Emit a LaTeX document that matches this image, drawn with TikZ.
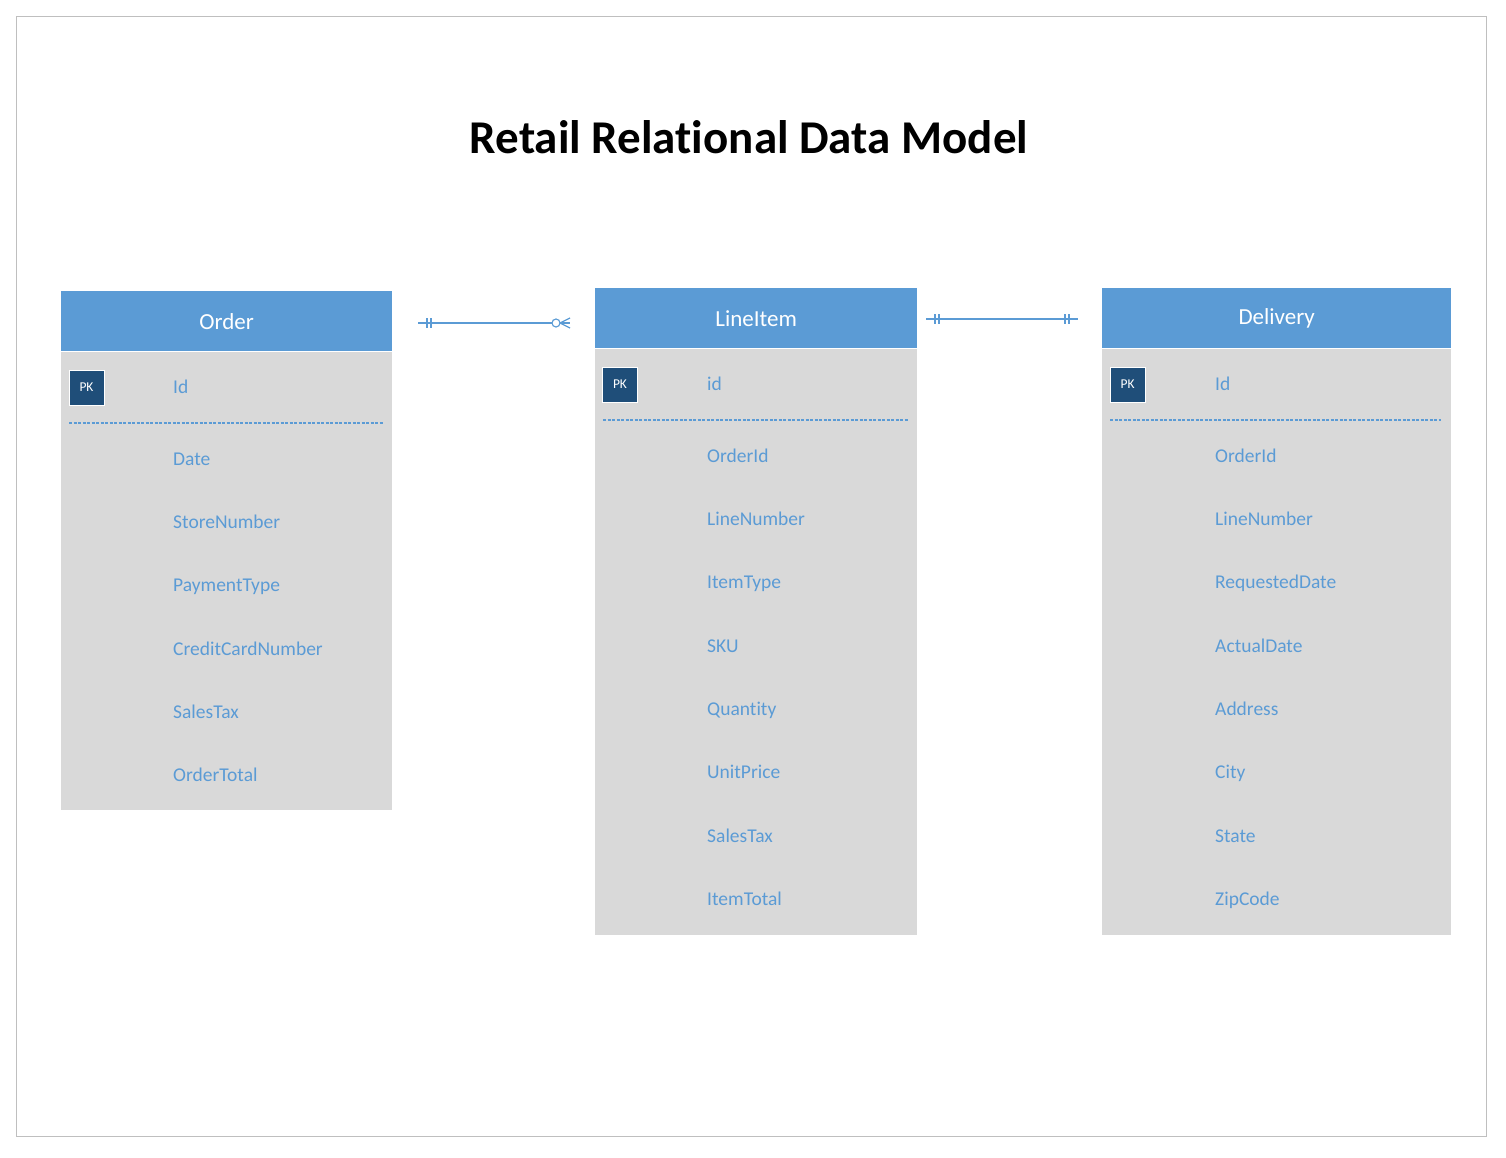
\documentclass[tikz,border=0pt]{standalone}
\usepackage{fontspec}
\setmainfont[Ligatures={NoCommon}]{Carlito}
\usetikzlibrary{calc}
\definecolor{hdr}{HTML}{5B9BD5}
\definecolor{bodyg}{HTML}{D9D9D9}
\definecolor{pkc}{HTML}{1F4E79}
\definecolor{framec}{HTML}{BFBFBF}
\definecolor{lnk}{HTML}{5B9BD5}
\begin{document}
\begin{tikzpicture}[x=1pt,y=-1pt,
  hdrbox/.style={fill=hdr, anchor=north west, inner sep=0pt, text=white, minimum height=60pt, font=\fontsize{23}{27}\selectfont},
  bodybox/.style={fill=bodyg, anchor=north west, inner sep=0pt},
  pkbox/.style={fill=pkc, draw=white, line width=1pt, minimum size=35pt, inner sep=0pt, text=white, font=\fontsize{13.5}{15}\selectfont},
  fld/.style={anchor=mid west, inner sep=0pt, text=hdr, font=\fontsize{19.5}{22}\selectfont},
  sep/.style={hdr, line width=1.2pt, dash pattern=on 3pt off 1.5pt},
  rel/.style={lnk, line width=1.15pt}
]
\useasboundingbox (0,0) rectangle (1506,1157);
\draw[framec, line width=1pt] (16,16) rectangle (1486,1136);

\node[font=\fontsize{47}{52}\selectfont\bfseries] (title) at (749,137) {Retail Relational Data Model};

% Order
\node[bodybox, minimum width=331pt, minimum height=459pt] (bO) at (61,351) {};
\node[hdrbox, minimum width=331pt] (hO) at (61,291) {Order};
\draw[white, line width=1pt] (hO.south west) -- (hO.south east);
\node[pkbox] (pO) at (86.5,387.5) {PK};
\node[fld] (oid) at (173,391) {Id};
\draw[sep] (69,423) -- (383,423);
\foreach \t [count=\i] in {Date,StoreNumber,PaymentType,CreditCardNumber,SalesTax,OrderTotal}
  \node[fld] (o\i) at (173,{463+63.2*(\i-1)}) {\t};

% LineItem
\node[bodybox, minimum width=322pt, minimum height=587pt] (bL) at (595,348) {};
\node[hdrbox, minimum width=322pt] (hL) at (595,288) {LineItem};
\draw[white, line width=1pt] (hL.south west) -- (hL.south east);
\node[pkbox] (pL) at (620,384.5) {PK};
\node[fld] (lid) at (707,388) {id};
\draw[sep] (603,420) -- (908,420);
\foreach \t [count=\i] in {OrderId,LineNumber,ItemType,SKU,Quantity,UnitPrice,SalesTax,ItemTotal}
  \node[fld] (l\i) at (707,{460+63.3*(\i-1)}) {\t};

% Delivery
\node[bodybox, minimum width=349pt, minimum height=587pt] (bD) at (1102,348) {};
\node[hdrbox, minimum width=349pt] (hD) at (1102,288) {Delivery};
\draw[white, line width=1pt] (hD.south west) -- (hD.south east);
\node[pkbox] (pD) at (1127.5,384.5) {PK};
\node[fld] (did) at (1215,388) {Id};
\draw[sep] (1110,420) -- (1441,420);
\foreach \t [count=\i] in {OrderId,LineNumber,RequestedDate,ActualDate,Address,City,State,ZipCode}
  \node[fld] (d\i) at (1215,{460+63.3*(\i-1)}) {\t};

% Relationship Order -- LineItem
\coordinate (c1a) at (418,323);
\coordinate (c1b) at (570,323);
\draw[rel] (c1a) -- (c1b);
\draw[rel] ($(c1a)+(9,-5)$) -- ++(0,10);
\draw[rel] ($(c1a)+(13,-5)$) -- ++(0,10);
\draw[rel] ($(c1b)+(-10,0)$) -- ($(c1b)+(0,-5)$);
\draw[rel] ($(c1b)+(-10,0)$) -- ($(c1b)+(0,5)$);
\draw[rel, fill=white] ($(c1b)+(-14,0)$) circle (4pt);

% Relationship LineItem -- Delivery
\coordinate (c2a) at (926,319);
\coordinate (c2b) at (1078,319);
\draw[rel] (c2a) -- (c2b);
\draw[rel] ($(c2a)+(9,-5)$) -- ++(0,10);
\draw[rel] ($(c2a)+(13,-5)$) -- ++(0,10);
\draw[rel] ($(c2b)+(-9,-5)$) -- ++(0,10);
\draw[rel] ($(c2b)+(-13,-5)$) -- ++(0,10);
\end{tikzpicture}
\end{document}
